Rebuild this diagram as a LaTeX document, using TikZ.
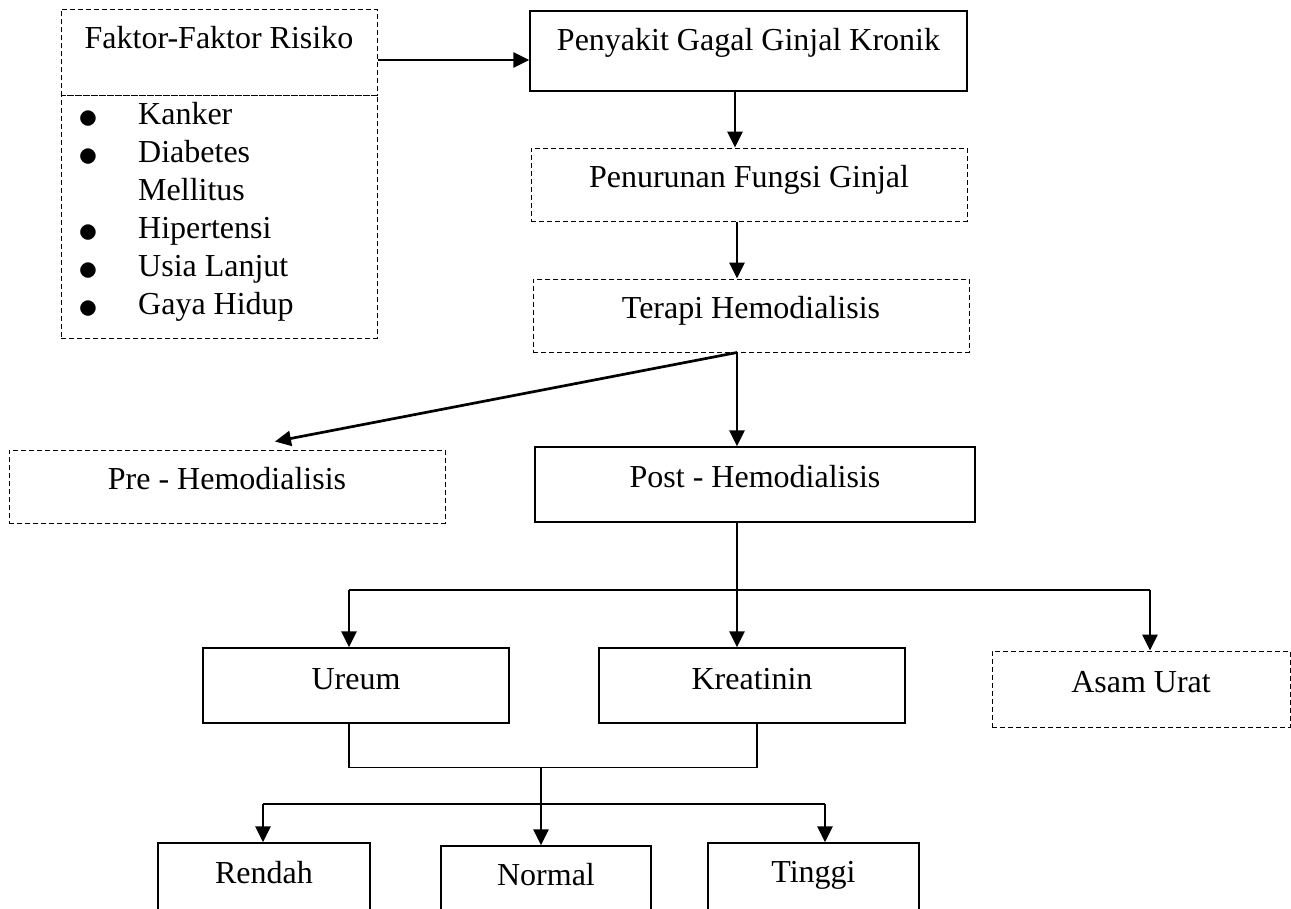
\documentclass[tikz,border=0pt]{standalone}
\usepackage{fontspec}
\setmainfont{Liberation Serif}
\usetikzlibrary{arrows.meta,positioning}

\newcommand{\dotmark}{\raisebox{-4pt}{\scalebox{1.6}{$\bullet$}}}

\begin{document}
\begin{tikzpicture}[
    x=1pt, y=-1pt,
    font=\fontsize{32pt}{38pt}\selectfont,
    box/.style={draw, line width=1.4pt, inner sep=0pt, align=center, minimum width=436pt, text height=39pt, text depth=34pt},
    dbox/.style={box, line width=1pt, dash pattern=on 5pt off 3pt},
    arrow/.style={-{Triangle[length=16pt, width=15pt]}, line width=2.7pt},
    link/.style={line width=1.8pt}
  ]
    \path[use as bounding box, clip] (0,0) rectangle (1291,908);
    \node[dbox, minimum width=316pt, text depth=47pt] (faktor) at (219,52) {Faktor-Faktor Risiko};
    \node[dbox, minimum width=316pt, minimum height=243pt, text height=0pt, text depth=0pt] (risiko) at (219,216.5) {};
    \node[anchor=north west, inner sep=0pt] (items) at (78,98) {%
      \begin{tabular}{@{}p{60pt}@{}l@{}}
        \dotmark & Kanker\\
        \dotmark & Diabetes\\
                 & Mellitus\\
        \dotmark & Hipertensi\\
        \dotmark & Usia Lanjut\\
        \dotmark & Gaya Hidup
      \end{tabular}};
    \node[box, minimum width=437pt, text depth=41pt] (penyakit) at (748.5,51) {Penyakit Gagal Ginjal Kronik};
    \node[dbox] (penurunan) at (749,184.5) {Penurunan Fungsi Ginjal};
    \node[dbox] (terapi) at (751,315.5) {Terapi Hemodialisis};
    \node[dbox] (pre) at (227,486.5) {Pre - Hemodialisis};
    \node[box, minimum width=440pt, text height=40pt, text depth=35pt] (post) at (755,484.5) {Post - Hemodialisis};
    \node[box, minimum width=306pt, text height=41pt] (ureum) at (356,685.5) {Ureum};
    \node[box, minimum width=306pt, text height=41pt] (kreatinin) at (752,685.5) {Kreatinin};
    \node[dbox, minimum width=298pt, text height=41pt, text depth=35pt] (asam) at (1141,689) {Asam Urat};
    \node[box, minimum width=212pt, text height=40pt, text depth=47pt] (rendah) at (264,886.5) {Rendah};
    \node[box, minimum width=210pt, text height=39pt, text depth=45pt] (normal) at (546,888) {Normal};
    \node[box, minimum width=211pt, text height=39pt, text depth=48pt] (tinggi) at (813.5,886.5) {Tinggi};
    \coordinate (barL) at (349,590);
    \coordinate (barR) at (1150,590);
    \coordinate (merge) at (541,767);
    \coordinate (lowL) at (263,804);
    \coordinate (lowR) at (825,804);
    \draw[arrow] ([yshift=-8pt]faktor.east) -- ([yshift=-9pt]penyakit.west);
    \draw[arrow] ([xshift=-13.5pt]penyakit.south) -- ([xshift=-14pt]penurunan.north);
    \draw[arrow] ([xshift=-12pt]penurunan.south) -- ([xshift=-14pt]terapi.north);
    \draw[arrow] ([xshift=-14pt]terapi.south) -- ([xshift=-18pt]post.north);
    \draw[arrow] ([xshift=-14pt]terapi.south) -- ([xshift=48pt,yshift=8pt]pre.north);
    \draw[arrow] ([xshift=-18pt]post.south) -- ([xshift=-15pt]kreatinin.north);
    \draw[link] (barL) -- (barR);
    \draw[arrow] (barL) -- ([xshift=-7pt]ureum.north);
    \draw[arrow] (barR) -- ([xshift=9pt]asam.north);
    \draw[link, line width=1.3pt] ([xshift=-7pt]ureum.south) -- ++(0,44) -| ([xshift=5pt]kreatinin.south);
    \draw[arrow] (merge) -- ([xshift=-5pt]normal.north);
    \draw[link] (lowL) -- (lowR);
    \draw[arrow] (lowL) -- ([xshift=-1pt]rendah.north);
    \draw[arrow] (lowR) -- ([xshift=11.5pt]tinggi.north);
  \end{tikzpicture}
\end{document}
